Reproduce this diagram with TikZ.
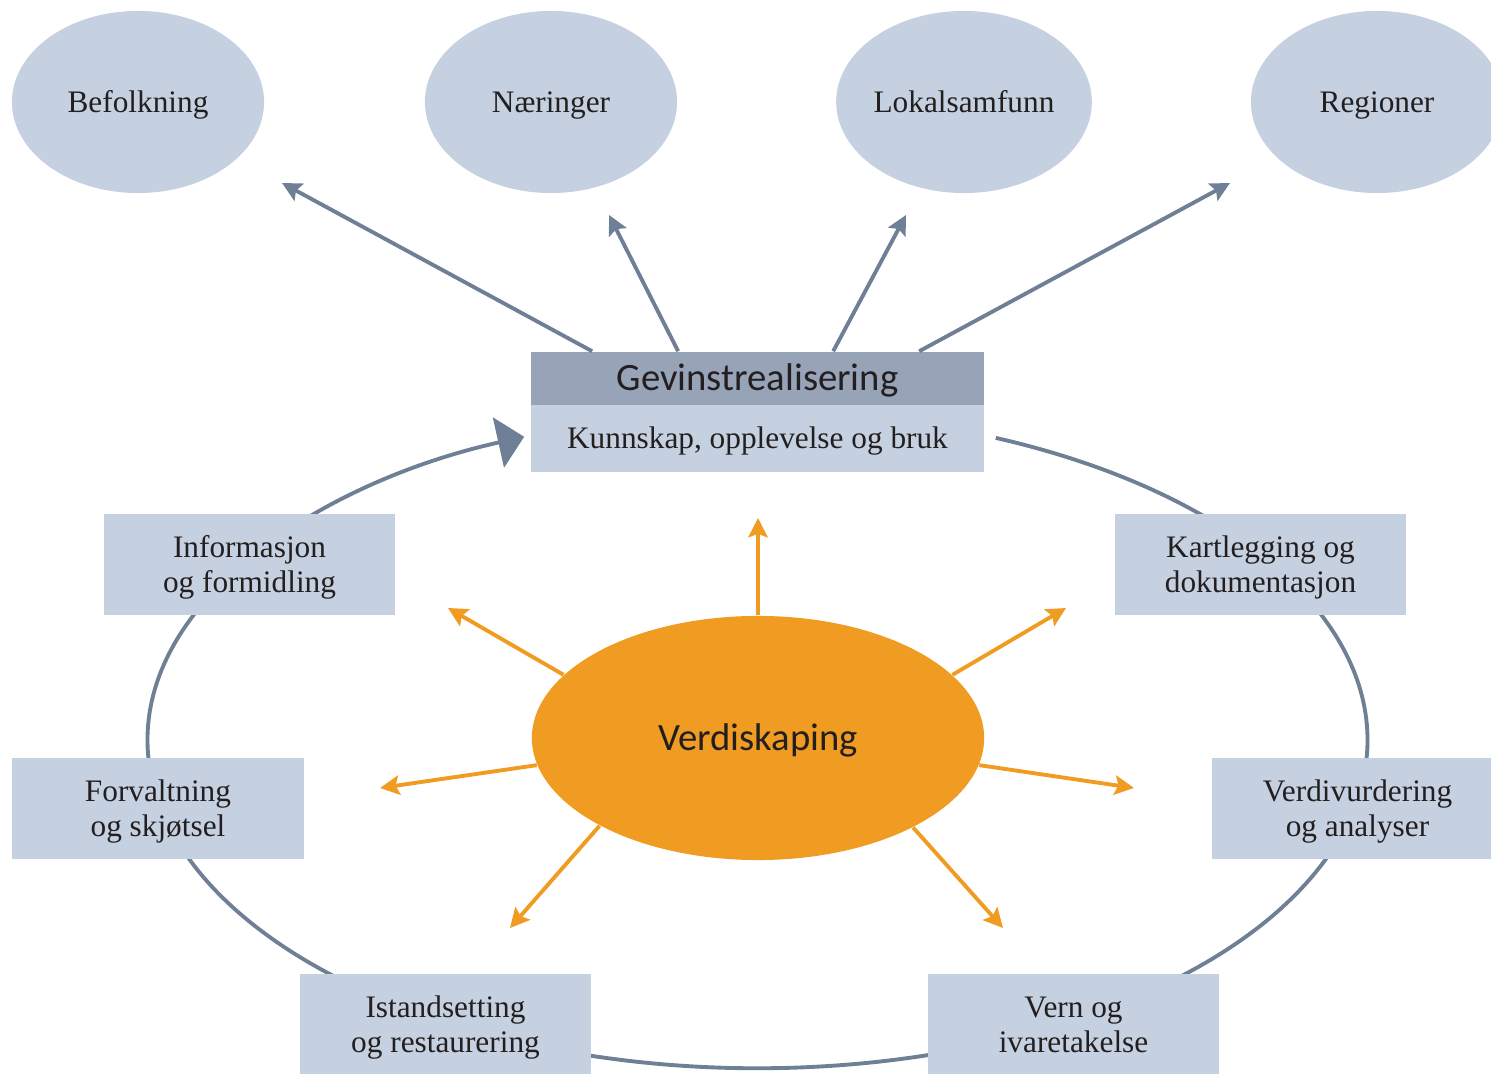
\documentclass[tikz,border=0pt]{standalone}
\usepackage{fontspec}
\setmainfont{Liberation Serif}
\newfontfamily\calib{Carlito}
\usetikzlibrary{arrows.meta,calc,shapes.geometric}
\definecolor{boxblue}{HTML}{C5D0E0}
\definecolor{headgray}{HTML}{97A3B6}
\definecolor{linegray}{HTML}{6F7F96}
\definecolor{orangefill}{HTML}{F09B21}
\definecolor{txt}{HTML}{231F20}
\tikzset{
  serif/.style={text=txt, font=\fontsize{8.9}{10}\selectfont},
  oneline/.style={serif, text height=5.9pt, text depth=0pt},
  sansline/.style={text=txt, font=\calib\fontsize{11}{13}\selectfont, text height=7.1pt, text depth=0pt},
  topell/.style={ellipse, fill=boxblue, minimum width=2.52cm, minimum height=1.82cm, inner sep=0pt, oneline},
  smallbox/.style={rectangle, fill=boxblue, minimum width=2.91cm, minimum height=1.01cm, inner sep=0pt, align=center, serif, text height=15.9pt, text depth=0pt},
  grayarr/.style={draw=linegray, line width=1.1pt, -{Stealth[length=5.5pt,width=5.5pt,inset=1pt]}},
  orarr/.style={draw=orangefill, line width=1.1pt, -{Stealth[length=5.5pt,width=5.5pt,inset=1pt]}},
  ring/.style={draw=linegray, line width=1.1pt}
}
\begin{document}
\begin{tikzpicture}[x=0.01cm,y=-0.01cm]
\useasboundingbox (0,0) rectangle (1491,1074);
\clip (0,0) rectangle (1491,1074);
% ring
\coordinate (rc) at (757.5,740);
\draw[ring, -{Triangle[length=7.5pt,width=14.5pt]}] ($(rc)+(67:6.095cm and 3.28cm)$) arc[start angle=67, end angle=-247.5, x radius=6.095cm, y radius=3.28cm];
% top ellipses
\node[topell] (bef) at (138,102) {Befolkning};
\node[topell] (nae) at (551,102) {Næringer};
\node[topell] (lok) at (964,102) {Lokalsamfunn};
\node[topell] (reg) at (1377,102) {Regioner};
% central box
\node[rectangle, fill=headgray, minimum width=4.53cm, minimum height=0.53cm, inner sep=0pt, sansline] (g) at (757.5,378.5) {Gevinstrealisering};
\node[rectangle, fill=boxblue, minimum width=4.53cm, minimum height=0.67cm, inner sep=0pt, oneline] (k) at (757.5,438.5) {Kunnskap, opplevelse og bruk};
% small boxes
\node[smallbox] (info) at (249.5,564.5) {Informasjon\\og formidling};
\node[smallbox] (kart) at (1260.5,564.5) {Kartlegging og\\dokumentasjon};
\node[smallbox] (forv) at (158,808.5) {Forvaltning\\og skjøtsel};
\node[smallbox] (verd) at (1357.5,808.5) {Verdivurdering\\og analyser};
\node[smallbox] (ist) at (445.5,1024.5) {Istandsetting\\og restaurering};
\node[smallbox] (vern) at (1073.5,1024.5) {Vern og\\ivaretakelse};
% Verdiskaping
\node[ellipse, fill=orangefill, minimum width=4.52cm, minimum height=2.44cm, inner sep=0pt, sansline] (v) at (758,738) {Verdiskaping};
% gray arrows
\coordinate (e1) at (282,183);
\coordinate (e2) at (609,215);
\coordinate (e3) at (906,215);
\coordinate (e4) at (1230,183);
\draw[grayarr] ($(g.north west)+(62,0)$) -- (e1);
\draw[grayarr] ($(g.north west)+(148,0)$) -- (e2);
\draw[grayarr] ($(g.north west)+(303,0)$) -- (e3);
\draw[grayarr] ($(g.north west)+(389,0)$) -- (e4);
% orange arrows
\coordinate (o1) at (758,518);
\coordinate (o2) at (448,608);
\coordinate (o3) at (1066,608);
\coordinate (o4) at (380,788);
\coordinate (o5) at (1134,788);
\coordinate (o6) at (510,928);
\coordinate (o7) at (1003,928);
\draw[orarr] (v.north) -- (o1);
\draw[orarr] (v.162) -- (o2);
\draw[orarr] (v.18) -- (o3);
\draw[orarr] (v.187) -- (o4);
\draw[orarr] (v.353) -- (o5);
\draw[orarr] (v.209.4) -- (o6);
\draw[orarr] (v.330) -- (o7);
\end{tikzpicture}
\end{document}
